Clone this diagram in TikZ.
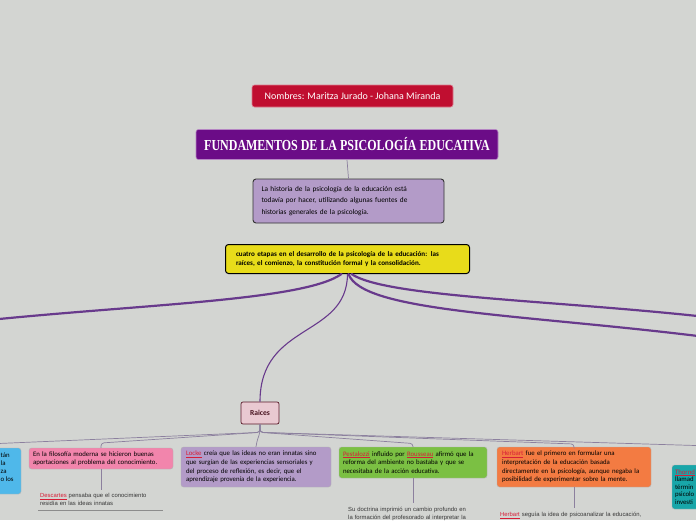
\documentclass[tikz,border=0pt]{standalone}
\usepackage{fontspec}
\setmainfont{Carlito}
\newfontfamily\titlefont{Liberation Serif}
\newfontfamily\notefont{Liberation Sans}
\usetikzlibrary{calc}
\definecolor{bg}{RGB}{211,213,210}
\definecolor{crimson}{RGB}{192,14,48}
\definecolor{titlepurple}{RGB}{107,12,135}
\definecolor{lav}{RGB}{179,155,200}
\definecolor{yel}{RGB}{232,220,26}
\definecolor{branch}{RGB}{104,58,140}
\definecolor{raicesfill}{RGB}{233,201,209}
\definecolor{raicesdraw}{RGB}{90,25,40}
\definecolor{pinkbox}{RGB}{242,133,172}
\definecolor{bluebox}{RGB}{79,184,234}
\definecolor{greenbox}{RGB}{123,192,67}
\definecolor{orangebox}{RGB}{243,123,66}
\definecolor{thornteal}{HTML}{18A6A9}
\definecolor{namered}{RGB}{215,30,55}
\definecolor{thinline}{RGB}{140,128,158}
\newcommand{\nm}[1]{\textcolor{namered}{\underline{#1}}}
\tikzset{
  box/.style={rounded corners=2.5pt, inner sep=0pt, align=left},
  childbox/.style={box, draw=black!30, line width=0.4pt, text=black,
    font=\fontsize{6.8}{8.6}\selectfont},
  conn/.style={draw=thinline, line width=0.7pt},
  bigbranch/.style={draw=branch, line width=2.2pt, line cap=round},
  smallbranch/.style={draw=branch, line width=1.1pt},
  note/.style={font=\notefont\fontsize{5.9}{8}\selectfont, text=black!78, align=left,
    inner xsep=2pt, inner ysep=4pt, anchor=north west},
}
\begin{document}
\begin{tikzpicture}[x=1pt,y=-1pt]
\fill[bg] (0,0) rectangle (696,520);
\useasboundingbox (0,0) rectangle (696,520);
\begin{scope}
\clip (0,0) rectangle (696,520);

% top nodes
\node[box, fill=crimson, draw=crimson!55!white, line width=0.6pt, text=white,
  minimum width=201pt, minimum height=22pt, align=center,
  font=\fontsize{10}{12}\selectfont] (nombres) at (352.5,96)
  {Nombres: Maritza Jurado - Johana Miranda};

\node[box, fill=titlepurple, draw=titlepurple!50!white, line width=0.6pt, text=white,
  minimum width=302pt, minimum height=30pt, align=center] (titulo) at (347,144.5)
  {\scalebox{1.06}[1.35]{\titlefont\bfseries\fontsize{11.3}{12}\selectfont FUNDAMENTOS DE LA PSICOLOGÍA EDUCATIVA}};

\node[box, fill=lav, draw=black!80, line width=0.9pt, rounded corners=3pt,
  minimum width=191pt, minimum height=44pt, text width=174pt,
  font=\fontsize{7.3}{11.5}\selectfont] (hist) at (348.5,201)
  {La historia de la psicología de la educación está\\
   todavía por hacer, utilizando algunas fuentes de\\
   historias generales de la psicología.};

\node[box, fill=yel, draw=black, line width=1pt, rounded corners=3pt,
  minimum width=244pt, minimum height=29pt, text width=223pt,
  font=\bfseries\fontsize{7.1}{8.3}\selectfont] (yelbox) at (347.5,259)
  {cuatro etapas en el desarrollo de la psicología de la educación: las\\
   raíces, el comienzo, la constitución formal y la consolidación.};

\draw[conn] (titulo.south) -- (hist.north);

% Raices
\node[box, fill=raicesfill, draw=raicesdraw, line width=0.7pt, rounded corners=2pt,
  minimum width=38pt, minimum height=22pt, align=center, text=raicesdraw!80!black,
  font=\bfseries\fontsize{7.6}{9}\selectfont] (raices) at (260,413) {Raices};

% main branches
\coordinate (ya) at ([xshift=-6pt]yelbox.south);
\coordinate (yb) at ([xshift=4pt]yelbox.south);
\coordinate (yc) at ([xshift=1pt]yelbox.south);
\coordinate (leftend) at (-6,319.5);
\coordinate (rightA) at (702,316.5);
\coordinate (rightB) at (702,336.5);
\draw[bigbranch] (ya) .. controls (305,300) and (150,304) .. (leftend);
\draw[bigbranch] (yb) .. controls (385,297) and (550,300) .. (rightA);
\draw[bigbranch] (yc) .. controls (362,312) and (520,314) .. (rightB);
\draw[smallbranch] (yelbox.south) .. controls (347,338) and (260,322) .. (raices.north);

% child boxes
\node[childbox, fill=bluebox, minimum width=141pt, minimum height=46pt] (blue) at (-49.5,471) {};
\node[anchor=west, align=left, inner sep=0pt, font=\fontsize{6.8}{7.9}\selectfont] (bluetext) at (0.5,467)
  {tán\\la\\za\\o los};

\node[childbox, fill=pinkbox, minimum width=144pt, minimum height=21pt, text width=136pt] (pink) at (101,458.5)
  {En la filosofía moderna se hicieron buenas\\ aportaciones al problema del conocimiento.};

\node[childbox, fill=lav, minimum width=150pt, minimum height=40pt, text width=140pt] (locke) at (256,467)
  {\nm{Locke} creía que las ideas no eran innatas sino\\ que surgían de las experiencias sensoriales y\\
   del proceso de reflexión, es decir, que el\\ aprendizaje provenía de la experiencia.};

\node[childbox, fill=greenbox, minimum width=148pt, minimum height=31pt, text width=140pt] (green) at (413,462.5)
  {\nm{Pestalozzi} influido por \nm{Rousseau} afirmó que la\\ reforma del ambiente no bastaba y que se\\
   necesitaba de la acción educativa.};

\node[childbox, fill=orangebox, minimum width=154pt, minimum height=40pt, text width=144pt] (orange) at (574,467)
  {\nm{Herbart} fue el primero en formular una\\ interpretación de la educación basada\\
   directamente en la psicología, aunque negaba la\\ posibilidad de experimentar sobre la mente.};

\node[childbox, fill=thornteal, minimum width=80pt, minimum height=44pt, text width=74pt,
  font=\fontsize{6.8}{7.6}\selectfont] (teal) at (712,487)
  {\nm{Thornd}\\ llamad\\ términ\\ psicolo\\ investi};

% connectors from Raices
\coordinate (rj) at ([yshift=-8pt]raices.south);
\draw[conn, rounded corners=3pt] (raices.south) -- (rj) -- (-60,446) -- (blue.north);
\draw[conn, rounded corners=3pt] (raices.south) -- (rj) -- (101,443) -- (pink.north);
\draw[conn, rounded corners=3pt] (raices.south) -- (rj) -- (257,441) -- (locke.north);
\draw[conn, rounded corners=3pt] (raices.south) -- (rj) -- (413,443.5) -- (green.north);
\draw[conn, rounded corners=3pt] (raices.south) -- (rj) -- (574,444) -- (orange.north);
\draw[conn, rounded corners=3pt] (raices.south) -- (rj) -- (712,446) -- (teal.north);

% notes
\node[note, text width=121pt] (desc) at (38,489.5)
  {\nm{Descartes} pensaba que el conocimiento\\ residía en las ideas innatas};
\draw[draw=black!45, line width=0.6pt] (desc.south west) -- (desc.south east);
\draw[conn] (pink.south) -- (pink.south |- desc.north);

\node[note, text width=134pt] (pnote) at (346,502.5)
  {Su doctrina imprimió un cambio profundo en\\ la formación del profesorado al interpretar la};
\draw[conn] (green.south) -- (green.south |- pnote.north);

\node[note, text width=150pt] (hnote) at (498,508)
  {\nm{Herbart} seguía la idea de psicoanalizar la educación,};
\draw[conn] (orange.south) -- (orange.south |- hnote.north);

\end{scope}
\end{tikzpicture}
\end{document}
